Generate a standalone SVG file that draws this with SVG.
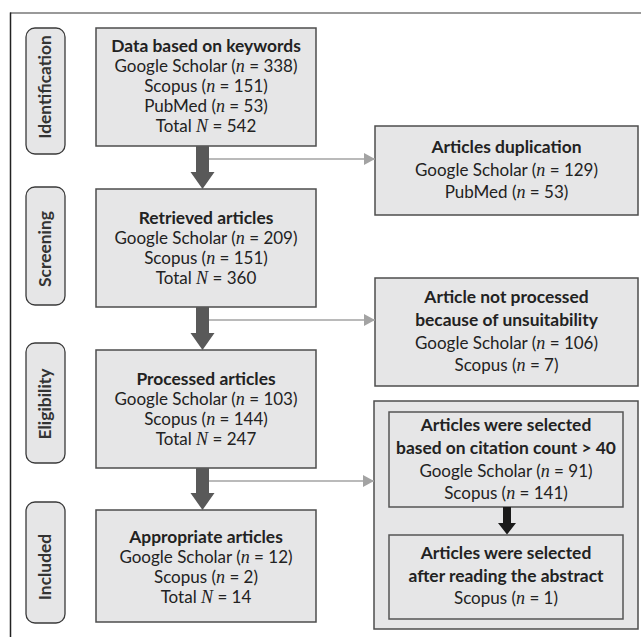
<svg xmlns="http://www.w3.org/2000/svg" width="641" height="637" viewBox="0 0 641 637">
<defs>
<style>
.box{fill:#e6e6e7;stroke:#4d4d4d;stroke-width:1.5}
.ibox{fill:#e6e6e7;stroke:#555;stroke-width:1.5}
.pill{fill:#e6e6e7;stroke:#3a3a3a;stroke-width:1.3}
.t{font-family:Lato,"Liberation Sans",sans-serif;font-size:17px;fill:#222;text-anchor:middle}
.b{font-weight:bold;font-size:17.4px}
.i{font-family:"Liberation Serif",serif;font-style:italic;font-size:18px}
.v{font-family:Lato,"Liberation Sans",sans-serif;font-weight:bold;font-size:17.4px;fill:#333;text-anchor:middle}
.main{fill:#595959}
.g{stroke:#a3a3a3;stroke-width:1.6;fill:none}
</style>
<marker id="ga" markerUnits="userSpaceOnUse" markerWidth="12" markerHeight="14" refX="11" refY="7" orient="auto">
<path d="M0,1 L11,7 L0,13 Z" fill="#a3a3a3"/>
</marker>
</defs>
<rect width="641" height="637" fill="#fff"/>
<g id="frame">
<line x1="10" y1="13" x2="641" y2="13" stroke="#777" stroke-width="1.6"/>
<line x1="10.5" y1="12.5" x2="10.5" y2="637" stroke="#222" stroke-width="1.5"/>
</g>
<g id="stage-identification">
<rect class="pill" x="26" y="28" width="39" height="126" rx="9"/>
<text class="v" transform="translate(51,87) rotate(-90)">Identification</text>
</g>
<g id="stage-screening">
<rect class="pill" x="26" y="187" width="39" height="118" rx="9"/>
<text class="v" transform="translate(51,249) rotate(-90)">Screening</text>
</g>
<g id="stage-eligibility">
<rect class="pill" x="26" y="343" width="39" height="120" rx="9"/>
<text class="v" transform="translate(51,404) rotate(-90)">Eligibility</text>
</g>
<g id="stage-included">
<rect class="pill" x="26" y="502" width="39" height="121" rx="9"/>
<text class="v" transform="translate(51,567) rotate(-90)">Included</text>
</g>
<g id="node-keywords">
<rect class="box" x="96" y="28" width="220" height="118"/>
<text class="t b" x="206" y="52">Data based on keywords</text>
<text class="t" x="206" y="72">Google Scholar (<tspan class="i">n</tspan> = 338)</text>
<text class="t" x="206" y="92">Scopus (<tspan class="i">n</tspan> = 151)</text>
<text class="t" x="206" y="112">PubMed (<tspan class="i">n</tspan> = 53)</text>
<text class="t" x="206" y="132">Total <tspan class="i">N</tspan> = 542</text>
</g>
<g id="node-retrieved">
<rect class="box" x="96" y="189" width="220" height="118"/>
<text class="t b" x="206" y="224">Retrieved articles</text>
<text class="t" x="206" y="244">Google Scholar (<tspan class="i">n</tspan> = 209)</text>
<text class="t" x="206" y="264">Scopus (<tspan class="i">n</tspan> = 151)</text>
<text class="t" x="206" y="284">Total <tspan class="i">N</tspan> = 360</text>
</g>
<g id="node-processed">
<rect class="box" x="96" y="350" width="220" height="118"/>
<text class="t b" x="206" y="385">Processed articles</text>
<text class="t" x="206" y="405">Google Scholar (<tspan class="i">n</tspan> = 103)</text>
<text class="t" x="206" y="425">Scopus (<tspan class="i">n</tspan> = 144)</text>
<text class="t" x="206" y="445">Total <tspan class="i">N</tspan> = 247</text>
</g>
<g id="node-appropriate">
<rect class="box" x="96" y="510" width="220" height="112"/>
<text class="t b" x="206" y="543">Appropriate articles</text>
<text class="t" x="206" y="563">Google Scholar (<tspan class="i">n</tspan> = 12)</text>
<text class="t" x="206" y="583">Scopus (<tspan class="i">n</tspan> = 2)</text>
<text class="t" x="206" y="603">Total <tspan class="i">N</tspan> = 14</text>
</g>
<g id="node-duplication">
<rect class="box" x="375" y="126" width="263" height="89"/>
<text class="t b" x="506.5" y="153">Articles duplication</text>
<text class="t" x="506.5" y="176">Google Scholar (<tspan class="i">n</tspan> = 129)</text>
<text class="t" x="506.5" y="198">PubMed (<tspan class="i">n</tspan> = 53)</text>
</g>
<g id="node-unsuitable">
<rect class="box" x="375" y="278" width="263" height="108"/>
<text class="t b" x="506.5" y="303">Article not processed</text>
<text class="t b" x="506.5" y="326">because of unsuitability</text>
<text class="t" x="506.5" y="349">Google Scholar (<tspan class="i">n</tspan> = 106)</text>
<text class="t" x="506.5" y="371">Scopus (<tspan class="i">n</tspan> = 7)</text>
</g>
<g id="node-selection">
<rect class="box" x="374" y="401" width="264" height="228"/>
<g id="node-citation">
<rect class="ibox" x="389" y="412" width="234" height="95"/>
<text class="t b" x="506" y="431">Articles were selected</text>
<text class="t b" x="506" y="454">based on citation count &gt; 40</text>
<text class="t" x="506" y="477">Google Scholar (<tspan class="i">n</tspan> = 91)</text>
<text class="t" x="506" y="499">Scopus (<tspan class="i">n</tspan> = 141)</text>
</g>
<g id="node-abstract">
<rect class="ibox" x="389" y="535" width="234" height="84"/>
<text class="t b" x="506" y="559">Articles were selected</text>
<text class="t b" x="506" y="582">after reading the abstract</text>
<text class="t" x="506" y="604">Scopus (<tspan class="i">n</tspan> = 1)</text>
</g>
</g>
<g id="connectors">
<polygon class="main" points="196,146 209,146 209,172 214.5,172 202.5,189 190.5,172 196,172"/>
<polygon class="main" points="196,307 209,307 209,333 214.5,333 202.5,350 190.5,333 196,333"/>
<polygon class="main" points="196,468 209,468 209,493 214.5,493 202.5,510 190.5,493 196,493"/>
<line class="g" x1="209" y1="159" x2="375" y2="159" marker-end="url(#ga)"/>
<line class="g" x1="209" y1="320" x2="375" y2="320" marker-end="url(#ga)"/>
<line class="g" x1="209" y1="481" x2="374" y2="481" marker-end="url(#ga)"/>
<polygon fill="#1a1a1a" points="503,507 511,507 511,523 516,523 507,534.5 498,523 503,523"/>
</g>
</svg>
